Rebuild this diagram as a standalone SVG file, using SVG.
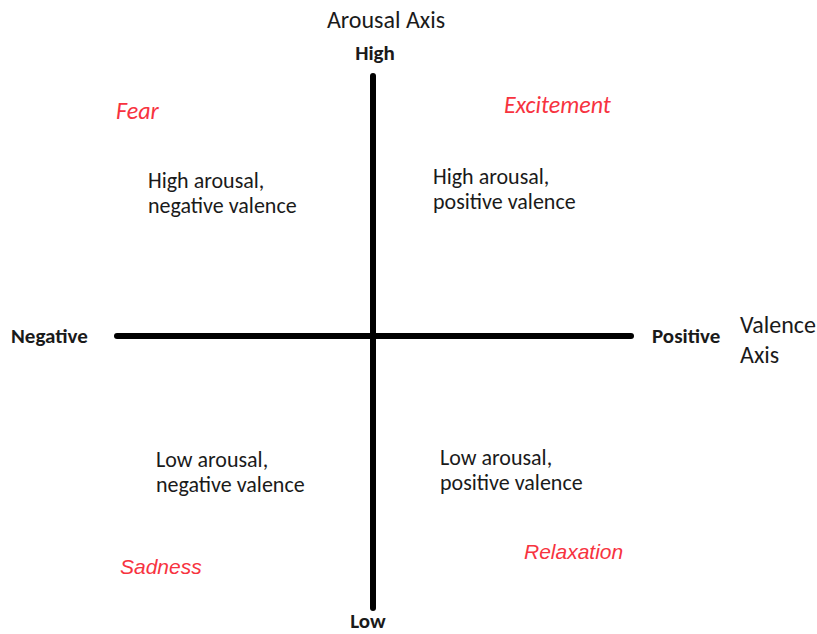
<svg xmlns="http://www.w3.org/2000/svg" width="817" height="634" viewBox="0 0 817 634">
  <style>
    text { font-family: Carlito, "Liberation Sans", Arial, sans-serif; fill: #1a1a1a; }
    .axis-title { font-size: 24px; }
    .pole { font-size: 21px; font-weight: bold; }
    .emotion { font-size: 24px; font-style: italic; fill: #f7333f; }
    .emotion-alt { font-family: "Liberation Sans", Arial, sans-serif; font-size: 21px; font-style: italic; fill: #f7333f; }
    .desc { font-size: 22px; }
    .axis { stroke: #000; stroke-width: 6; stroke-linecap: round; fill: none; }
  </style>
  <rect width="817" height="634" fill="#fff"/>

  <g id="axes">
    <line class="axis" x1="373" y1="76" x2="373" y2="608"/>
    <line class="axis" x1="117" y1="336" x2="631" y2="336"/>
  </g>

  <g id="arousal-axis">
    <text class="axis-title" x="386" y="28" text-anchor="middle">Arousal Axis</text>
    <text class="pole" x="375" y="60" text-anchor="middle">High</text>
    <text class="pole" x="368" y="628" text-anchor="middle">Low</text>
  </g>

  <g id="valence-axis">
    <text class="pole" x="11" y="343">Negative</text>
    <text class="pole" x="652" y="343">Positive</text>
    <text class="axis-title" x="740" y="333">Valence</text>
    <text class="axis-title" x="740" y="363">Axis</text>
  </g>

  <g id="fear">
    <text class="emotion" x="116" y="119">Fear</text>
  </g>
  <g id="excitement">
    <text class="emotion" x="504" y="113">Excitement</text>
  </g>
  <g id="sadness">
    <text class="emotion-alt" x="120" y="574">Sadness</text>
  </g>
  <g id="relaxation">
    <text class="emotion-alt" x="524" y="559">Relaxation</text>
  </g>

  <g id="quadrant-high-negative">
    <text class="desc" x="148" y="188">High arousal,</text>
    <text class="desc" x="148" y="213">negative valence</text>
  </g>
  <g id="quadrant-high-positive">
    <text class="desc" x="433" y="184">High arousal,</text>
    <text class="desc" x="433" y="209">positive valence</text>
  </g>
  <g id="quadrant-low-negative">
    <text class="desc" x="156" y="467">Low arousal,</text>
    <text class="desc" x="156" y="492">negative valence</text>
  </g>
  <g id="quadrant-low-positive">
    <text class="desc" x="440" y="465">Low arousal,</text>
    <text class="desc" x="440" y="490">positive valence</text>
  </g>
</svg>
